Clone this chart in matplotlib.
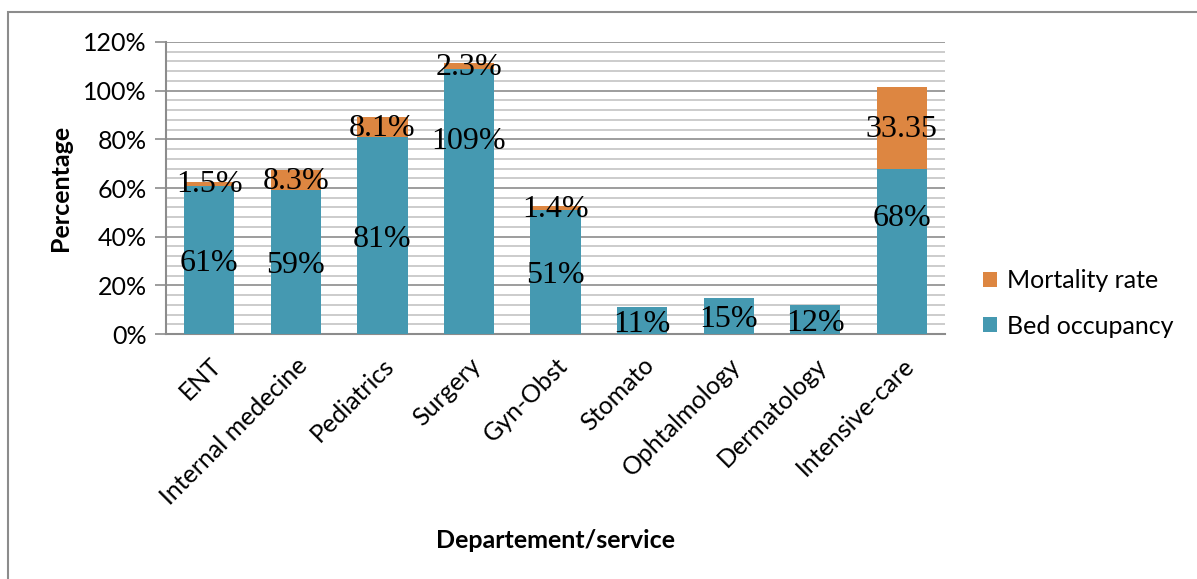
import matplotlib.pyplot as plt
import numpy as np
from matplotlib.patches import Rectangle
from matplotlib.ticker import MultipleLocator, PercentFormatter

# bed occupancy and mortality rate per department (%)
departments = ["ENT", "Internal medecine", "Pediatrics", "Surgery", "Gyn-Obst",
               "Stomato", "Ophtalmology", "Dermatology", "Intensive-care"]
bed_occupancy = [61, 59, 81, 109, 51, 11, 15, 12, 68]
mortality = [1.5, 8.3, 8.1, 2.3, 1.4, 0, 0, 0, 33.35]
bed_labels = ["61%", "59%", "81%", "109%", "51%", "11%", "15%", "12%", "68%"]
mort_labels = ["1.5%", "8.3%", "8.1%", "2.3%", "1.4%", "", "", "", "33.35"]

BLUE = "#4599b1"
ORANGE = "#dd8641"
sans = ["Lato", "DejaVu Sans"]
serif = ["Liberation Serif", "DejaVu Serif"]

fig = plt.figure(figsize=(11.97, 5.79), dpi=100)
ax = fig.add_axes([0.1387, 0.4231, 0.6508, 0.5044])

x = np.arange(len(departments))
b1 = ax.bar(x, bed_occupancy, width=0.58, color=BLUE, label="Bed occupancy", zorder=3)
b2 = ax.bar(x, mortality, width=0.58, bottom=bed_occupancy, color=ORANGE,
            label="Mortality rate", zorder=3)

# value labels, centred in each segment (a couple nudged up like the original)
nudge = {3: 26, 8: 15}
for i in range(len(departments)):
    yb = bed_occupancy[i] / 2 + nudge.get(i, 0) - 1.5
    ax.text(x[i], yb, bed_labels[i], ha="center", va="center",
            fontsize=23, family=serif, zorder=4)
    if mort_labels[i]:
        ym = bed_occupancy[i] + mortality[i] / 2 - 0.5
        ax.text(x[i], ym, mort_labels[i], ha="center", va="center",
                fontsize=23, family=serif, zorder=4)

ax.set_xlim(-0.5, len(departments) - 0.5)
ax.set_ylim(0, 120)
ax.yaxis.set_major_locator(MultipleLocator(20))
ax.yaxis.set_minor_locator(MultipleLocator(4))
ax.yaxis.set_major_formatter(PercentFormatter(decimals=0))
ax.grid(axis="y", which="major", color="#8c8c8c", lw=1.2, zorder=1)
ax.grid(axis="y", which="minor", color="#c4c4c4", lw=1.2, zorder=1)
ax.tick_params(axis="y", which="major", length=8, color="#8c8c8c", width=1.2,
               labelsize=18, pad=6)
ax.tick_params(axis="y", which="minor", length=0)
ax.tick_params(axis="x", length=0, labelsize=18, pad=14)
for lab in ax.get_yticklabels():
    lab.set_family(sans)

ax.set_xticks(x)
ax.set_xticklabels(departments, rotation=45, ha="right", rotation_mode="anchor",
                   family=sans)

for side in ["top", "right"]:
    ax.spines[side].set_visible(False)
for side in ["left", "bottom"]:
    ax.spines[side].set_color("#8c8c8c")
    ax.spines[side].set_linewidth(1.5)

ax.set_ylabel("Percentage", fontsize=18, fontweight="bold", family=sans, labelpad=8)
fig.text(0.4637, 0.067, "Departement/service", fontsize=18, fontweight="bold",
         family=sans, ha="center", va="center")

ax.legend(handles=[b2, b1], loc="center left", bbox_to_anchor=(1.02, 0.105),
          frameon=False, prop={"family": sans, "size": 18},
          handlelength=0.55, handleheight=0.55, handletextpad=0.4, labelspacing=0.9)

# chart-area border
fig.patches.append(Rectangle((8 / 1197, -0.1), 1.2, 1 - 12 / 579 + 0.1,
                             transform=fig.transFigure, fill=False,
                             edgecolor="#8c8c8c", lw=1.5))

fig.savefig("out.png", dpi=100)
